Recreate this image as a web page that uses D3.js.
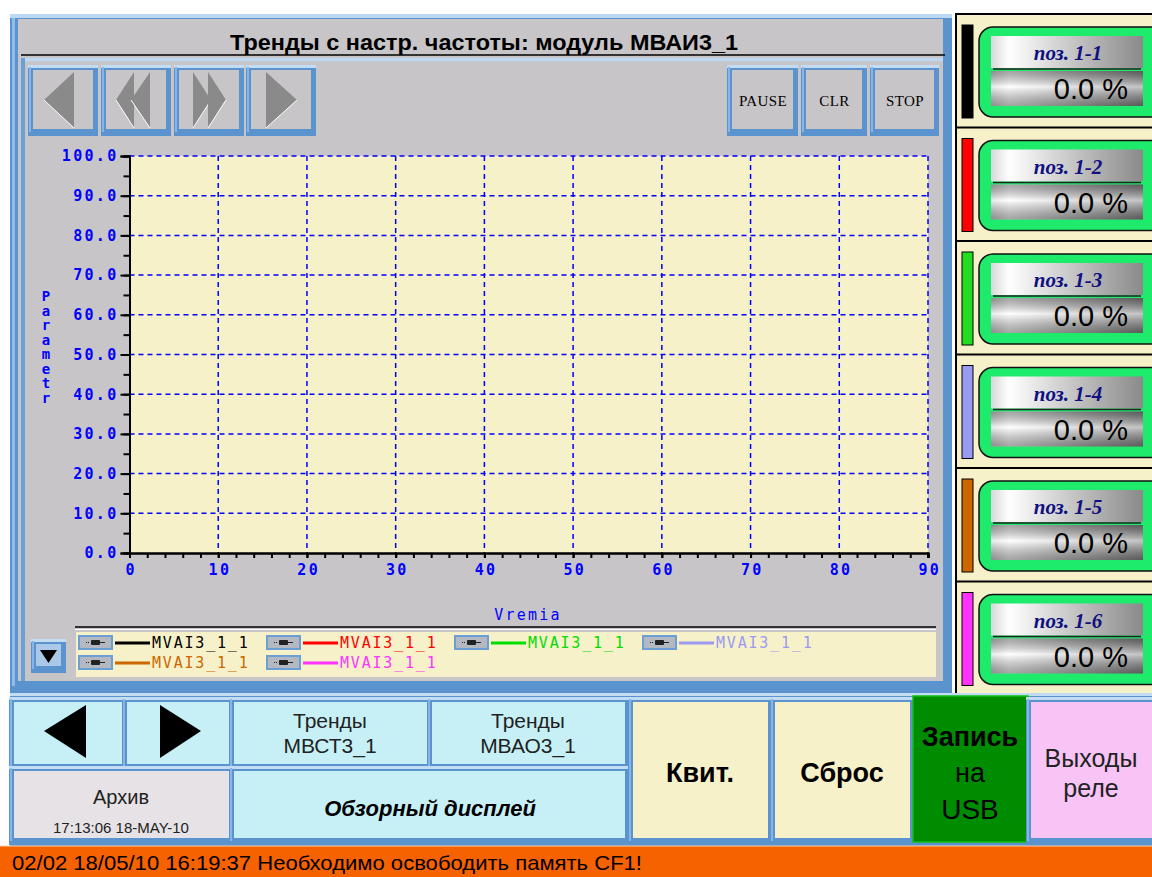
<!DOCTYPE html>
<html>
<head>
<meta charset="utf-8">
<script src="https://cdn.jsdelivr.net/npm/d3@7"></script>
<style>
  body { margin: 0; background: #fff; }
  svg { display: block; }
</style>
</head>
<body>
<svg id="hmi" width="1152" height="877"></svg>
<script>
// chart data
const yTickValues = [0, 10, 20, 30, 40, 50, 60, 70, 80, 90, 100];
const xTickValues = [0, 10, 20, 30, 40, 50, 60, 70, 80, 90];
const seriesNames = ["MVAI3_1_1", "MVAI3_1_1", "MVAI3_1_1", "MVAI3_1_1", "MVAI3_1_1", "MVAI3_1_1"];
const seriesColors = ["#000000", "#ff0000", "#00dd00", "#9a9af2", "#cc6600", "#ff33ff"];
const positionLabels = ["поз. 1-1", "поз. 1-2", "поз. 1-3", "поз. 1-4", "поз. 1-5", "поз. 1-6"];
const positionValues = [0.0, 0.0, 0.0, 0.0, 0.0, 0.0];
// no samples recorded yet - trend is empty
const trendData = [[], [], [], [], [], []];

const title = "Тренды с настр. частоты: модуль МВАИ3_1";
const statusText = "02/02 18/05/10 16:19:37 Необходимо освободить память CF1!";

const GREY = "#c8c5c8";
const PAPER = "#f7f1c9";
const FRAME = "#5b93cf";
const PIXFONT = "'DejaVu Sans Mono', monospace";

let svg = d3.select("#hmi");

let defs = svg.append("defs");
let gH = defs.append("linearGradient").attr("id", "gradH");
gH.append("stop").attr("offset", "0%").attr("stop-color", "#d8d8d8");
gH.append("stop").attr("offset", "12%").attr("stop-color", "#ffffff");
gH.append("stop").attr("offset", "55%").attr("stop-color", "#c4c4c4");
gH.append("stop").attr("offset", "100%").attr("stop-color", "#8a8a8a");
let gV = defs.append("linearGradient").attr("id", "gradV")
    .attr("x1", 0).attr("y1", 0).attr("x2", 0).attr("y2", 1);
gV.append("stop").attr("offset", "0%").attr("stop-color", "#000").attr("stop-opacity", 0.35);
gV.append("stop").attr("offset", "45%").attr("stop-color", "#fff").attr("stop-opacity", 0.5);
gV.append("stop").attr("offset", "100%").attr("stop-color", "#000").attr("stop-opacity", 0.35);

function bevel(sel, x, y, w, h, fill) {
    let g = sel.append("g");
    g.append("rect").attr("x", x).attr("y", y).attr("width", w).attr("height", h).attr("fill", FRAME);
    g.append("rect").attr("x", x).attr("y", y).attr("width", w).attr("height", 3).attr("fill", "#c2dcf4");
    g.append("rect").attr("x", x + 1).attr("y", y + 2).attr("width", 2).attr("height", h - 6).attr("fill", "#86b6e8");
    g.append("rect").attr("x", x + 5).attr("y", y + 5).attr("width", w - 10).attr("height", h - 12).attr("fill", fill);
    return g;
}

function label(sel, x, y, txt, size, opts) {
    opts = opts || {};
    return sel.append("text")
        .attr("x", x).attr("y", y)
        .attr("font-family", opts.family || "'Liberation Sans', Arial, sans-serif")
        .attr("font-size", size + "px")
        .attr("font-weight", opts.weight || "normal")
        .attr("font-style", opts.style || "normal")
        .attr("fill", opts.fill || "#000")
        .attr("text-anchor", opts.anchor || "middle")
        .attr("dominant-baseline", "central")
        .text(txt);
}

// ---------- trend panel ----------
let panel = svg.append("g");
panel.append("rect").attr("x", 10).attr("y", 14).attr("width", 942).attr("height", 679).attr("fill", FRAME);
panel.append("rect").attr("x", 10).attr("y", 14).attr("width", 942).attr("height", 4).attr("fill", "#bcd8f2");
panel.append("rect").attr("x", 12).attr("y", 18).attr("width", 3).attr("height", 668).attr("fill", "#8fbce9");
panel.append("rect").attr("x", 18).attr("y", 19).attr("width", 925).attr("height", 662).attr("fill", GREY);
// inner frame under title
panel.append("rect").attr("x", 21).attr("y", 58).attr("width", 922).attr("height", 3).attr("fill", "#bcd8f2");
panel.append("rect").attr("x", 21).attr("y", 58).attr("width", 4).attr("height", 623).attr("fill", "#6aa0d8");
panel.append("line").attr("x1", 21).attr("x2", 945).attr("y1", 55).attr("y2", 55)
    .attr("stroke", "#000").attr("stroke-width", 1.5);
label(panel, 484, 42, title, 22, { weight: "bold" }).attr("textLength", 508).attr("lengthAdjust", "spacingAndGlyphs");

// nav buttons (top left)
let navX = [28, 101, 174, 246];
navX.forEach(x => bevel(panel, x, 65, 70, 71, GREY));
function tri(sel, pts, fill) {
    sel.append("polygon").attr("points", pts.map(p => p.join(",")).join(" ")).attr("fill", fill);
    sel.append("polyline").attr("points", [pts[0], pts[1]].map(p => p.join(",")).join(" "))
        .attr("fill", "none").attr("stroke", "#fff").attr("stroke-width", 1);
}
tri(panel, [[44, 100], [74, 128], [74, 72]], "#8a8a8a");
tri(panel, [[116, 100], [134, 128], [134, 72]], "#8a8a8a");
tri(panel, [[131, 100], [150, 128], [150, 72]], "#8a8a8a");
tri(panel, [[211, 100], [193, 128], [193, 72]], "#8a8a8a");
tri(panel, [[226, 100], [208, 128], [208, 72]], "#8a8a8a");
tri(panel, [[297, 100], [266, 128], [266, 72]], "#8a8a8a");

// PAUSE / CLR / STOP
[["PAUSE", 727, 71], ["CLR", 801, 66], ["STOP", 870, 69]].forEach(([t, x, w]) => {
    bevel(panel, x, 65, w, 71, GREY);
    label(panel, x + w / 2 + 0.5, 101, t, 15, { family: "'Liberation Serif', 'Times New Roman', serif" })
        .attr("letter-spacing", "0.4px");
});

// ---------- plot ----------
let x = d3.scaleLinear().domain([0, 90]).range([129.5, 928]);
let y = d3.scaleLinear().domain([0, 100]).range([553, 156]);

let plot = svg.append("g");
plot.append("rect").attr("x", x(0)).attr("y", y(100))
    .attr("width", x(90) - x(0)).attr("height", y(0) - y(100)).attr("fill", PAPER);

plot.selectAll(".hgrid").data(yTickValues.filter(d => d > 0)).enter().append("line")
    .attr("class", "hgrid")
    .attr("x1", x(0)).attr("x2", x(90))
    .attr("y1", d => y(d)).attr("y2", d => y(d))
    .attr("stroke", "#0000ff").attr("stroke-width", 1.5).attr("stroke-dasharray", "5,4");
plot.selectAll(".vgrid").data(xTickValues.filter(d => d > 0)).enter().append("line")
    .attr("class", "vgrid")
    .attr("x1", d => x(d)).attr("x2", d => x(d))
    .attr("y1", y(100)).attr("y2", y(0))
    .attr("stroke", "#0000ff").attr("stroke-width", 1.5).attr("stroke-dasharray", "5,4");

// trend lines (empty)
let line = d3.line().x(d => x(d[0])).y(d => y(d[1]));
plot.selectAll(".trend").data(trendData).enter().append("path")
    .attr("class", "trend")
    .attr("d", d => d.length ? line(d) : null)
    .attr("fill", "none")
    .attr("stroke", (d, i) => seriesColors[i]).attr("stroke-width", 2);

function styleAxis(g) {
    g.selectAll("path").attr("stroke", "#000").attr("stroke-width", 2);
    g.selectAll("line").attr("stroke", "#000").attr("stroke-width", 2);
    g.selectAll("text").attr("fill", "#0000ff").attr("font-family", PIXFONT)
        .attr("font-size", "15px").attr("font-weight", "bold").attr("letter-spacing", "2.3px");
}

plot.append("g").attr("transform", `translate(${x(0)},0)`)
    .call(d3.axisLeft(y).tickValues(d3.range(0, 101, 5)).tickSize(6).tickFormat(""))
    .call(styleAxis);
plot.append("g").attr("transform", `translate(${x(0)},0)`)
    .call(d3.axisLeft(y).tickValues(yTickValues).tickSize(9).tickPadding(2).tickFormat(d3.format(".1f")))
    .call(styleAxis);
plot.append("g").attr("transform", `translate(0,${y(0)})`)
    .call(d3.axisBottom(x).tickValues(d3.range(0, 91, 2)).tickSize(5).tickFormat(""))
    .call(styleAxis);
plot.append("g").attr("transform", `translate(0,${y(0)})`)
    .call(d3.axisBottom(x).tickValues(xTickValues).tickSize(5).tickPadding(6))
    .call(styleAxis)
    .selectAll("text").attr("dx", "1.2px");

// axis titles
"Parametr".split("").forEach((c, i) => {
    label(plot, 46, 296 + i * 14.5, c, 14, { family: PIXFONT, fill: "#0000ff", weight: "bold" });
});
label(plot, 528, 615, "Vremia", 15, { family: PIXFONT, fill: "#0000ff" }).attr("letter-spacing", "2.2px");

// ---------- legend ----------
let legend = svg.append("g");
legend.append("line").attr("x1", 75).attr("x2", 936).attr("y1", 627).attr("y2", 627)
    .attr("stroke", "#000").attr("stroke-width", 1.5);
legend.append("line").attr("x1", 75).attr("x2", 936).attr("y1", 629.5).attr("y2", 629.5)
    .attr("stroke", "#fff").attr("stroke-width", 1);
legend.append("rect").attr("x", 76).attr("y", 632).attr("width", 860).attr("height", 45).attr("fill", PAPER);
// scroll down button
bevel(legend, 31, 639, 35, 34, "#aac8e8");
legend.append("polygon").attr("points", "40,650 57,650 48.5,663").attr("fill", "#000");

let items = legend.selectAll(".item").data(seriesNames).enter().append("g")
    .attr("class", "item")
    .attr("transform", (d, i) => `translate(${78 + (i % 4) * 188},${635 + Math.floor(i / 4) * 20})`);
items.append("rect").attr("x", 0).attr("y", 0).attr("width", 35).attr("height", 15).attr("fill", "#6c9fd6");
items.append("rect").attr("x", 2).attr("y", 2).attr("width", 31).attr("height", 11).attr("fill", "#b4b8c0");
items.append("rect").attr("x", 13).attr("y", 5).attr("width", 9).attr("height", 5).attr("rx", 1).attr("fill", "#222");
items.append("line").attr("x1", 8).attr("x2", 12).attr("y1", 7.5).attr("y2", 7.5).attr("stroke", "#222").attr("stroke-width", 1).attr("stroke-dasharray", "1,1");
items.append("line").attr("x1", 22).attr("x2", 27).attr("y1", 7.5).attr("y2", 7.5).attr("stroke", "#222").attr("stroke-width", 1);
items.append("line").attr("x1", 37).attr("x2", 72).attr("y1", 8).attr("y2", 8)
    .attr("stroke", (d, i) => seriesColors[i]).attr("stroke-width", 3);
items.append("text").attr("x", 74).attr("y", 8).attr("dominant-baseline", "central")
    .attr("font-family", PIXFONT).attr("font-size", "15px").attr("letter-spacing", "1.8px")
    .attr("fill", (d, i) => seriesColors[i]).text(d => d);

// ---------- right readout panel ----------
let right = svg.append("g");
right.append("rect").attr("x", 956).attr("y", 14).attr("width", 198).attr("height", 681)
    .attr("fill", PAPER).attr("stroke", "#000").attr("stroke-width", 2);
let rowH = 113.5;
let rows = right.selectAll(".row").data(positionLabels).enter().append("g")
    .attr("class", "row")
    .attr("transform", (d, i) => `translate(0,${14 + i * rowH})`);
rows.filter((d, i) => i > 0).append("line").attr("x1", 956).attr("x2", 1152).attr("y1", 0).attr("y2", 0)
    .attr("stroke", "#000").attr("stroke-width", 2);
rows.append("rect").attr("x", 962).attr("y", 11).attr("width", 11).attr("height", 93)
    .attr("fill", (d, i) => seriesColors[i] === "#00dd00" ? "#22dd22" : seriesColors[i])
    .attr("stroke", "#000").attr("stroke-width", 1);
rows.append("rect").attr("x", 979).attr("y", 13).attr("width", 190).attr("height", 90).attr("rx", 14)
    .attr("fill", "#1eea6c").attr("stroke", "#111").attr("stroke-width", 1.5);
rows.append("rect").attr("x", 991).attr("y", 22).attr("width", 152).attr("height", 32).attr("fill", "url(#gradH)");
rows.append("line").attr("x1", 993).attr("x2", 1141).attr("y1", 55).attr("y2", 55)
    .attr("stroke", "#222").attr("stroke-width", 1.5);
rows.append("rect").attr("x", 991).attr("y", 57).attr("width", 152).attr("height", 35).attr("fill", "url(#gradH)");
rows.append("rect").attr("x", 991).attr("y", 57).attr("width", 152).attr("height", 35).attr("fill", "url(#gradV)");
rows.append("text").attr("x", 1068).attr("y", 39).attr("text-anchor", "middle").attr("dominant-baseline", "central")
    .attr("font-family", "'Liberation Serif', serif").attr("font-weight", "bold").attr("font-style", "italic")
    .attr("font-size", "21px").attr("fill", "#101080").text(d => d);
rows.append("text").attr("x", 1128).attr("y", 75).attr("text-anchor", "end").attr("dominant-baseline", "central")
    .attr("font-family", "'Liberation Sans', Arial, sans-serif").attr("font-size", "29px").attr("fill", "#000")
    .text((d, i) => d3.format(".1f")(positionValues[i]) + " %");

// ---------- bottom buttons ----------
let bottom = svg.append("g");
bottom.append("rect").attr("x", 10).attr("y", 693).attr("width", 1142).attr("height", 153).attr("fill", FRAME);
bottom.append("rect").attr("x", 10).attr("y", 693).attr("width", 1142).attr("height", 3).attr("fill", "#c2dcf4");
const CYAN = "#c6f0f6";
bevel(bottom, 9, 697, 118, 74, CYAN);
bevel(bottom, 122, 697, 112, 74, CYAN);
bevel(bottom, 229, 697, 203, 74, CYAN);
bevel(bottom, 427, 697, 203, 74, CYAN);
bevel(bottom, 9, 766, 225, 79, "#e6e2e6");
bevel(bottom, 229, 766, 401, 79, CYAN);
bevel(bottom, 628, 697, 145, 148, PAPER);
bevel(bottom, 770, 697, 145, 148, PAPER);
bottom.append("rect").attr("x", 913).attr("y", 696).attr("width", 115).attr("height", 146)
    .attr("fill", "#008c00").attr("stroke", "#11c011").attr("stroke-width", 1.5);
bevel(bottom, 1026, 697, 131, 148, "#f7c4f5");

bottom.append("polygon").attr("points", "44,731 86,705 86,758").attr("fill", "#000");
bottom.append("polygon").attr("points", "201,731 160,705 160,758").attr("fill", "#000");
label(bottom, 330, 720, "Тренды", 21).attr("fill", "#222");
label(bottom, 330, 745, "МВСТ3_1", 21).attr("fill", "#222");
label(bottom, 528, 720, "Тренды", 21).attr("fill", "#222");
label(bottom, 528, 745, "МВАО3_1", 21).attr("fill", "#222");
label(bottom, 121, 797, "Архив", 20).attr("fill", "#222");
label(bottom, 121, 827, "17:13:06 18-MAY-10", 15).attr("fill", "#222");
label(bottom, 430, 808, "Обзорный дисплей", 22, { weight: "bold", style: "italic" });
label(bottom, 700, 773, "Квит.", 27, { weight: "bold" });
label(bottom, 842, 773, "Сброс", 27, { weight: "bold" });
label(bottom, 970, 737, "Запись", 27, { weight: "bold" });
label(bottom, 970, 773, "на", 27);
label(bottom, 970, 809, "USB", 28);
label(bottom, 1091, 758, "Выходы", 25).attr("fill", "#222");
label(bottom, 1091, 788, "реле", 25).attr("fill", "#222");

// ---------- status bar ----------
svg.append("rect").attr("x", 0).attr("y", 846).attr("width", 1152).attr("height", 31).attr("fill", "#f66200");
svg.append("line").attr("x1", 0).attr("x2", 1152).attr("y1", 846).attr("y2", 846).attr("stroke", "#fbd0a8").attr("stroke-width", 1);
label(svg, 12, 862, statusText, 21, { anchor: "start" })
    .attr("textLength", 630).attr("lengthAdjust", "spacingAndGlyphs");
</script>
</body>
</html>
